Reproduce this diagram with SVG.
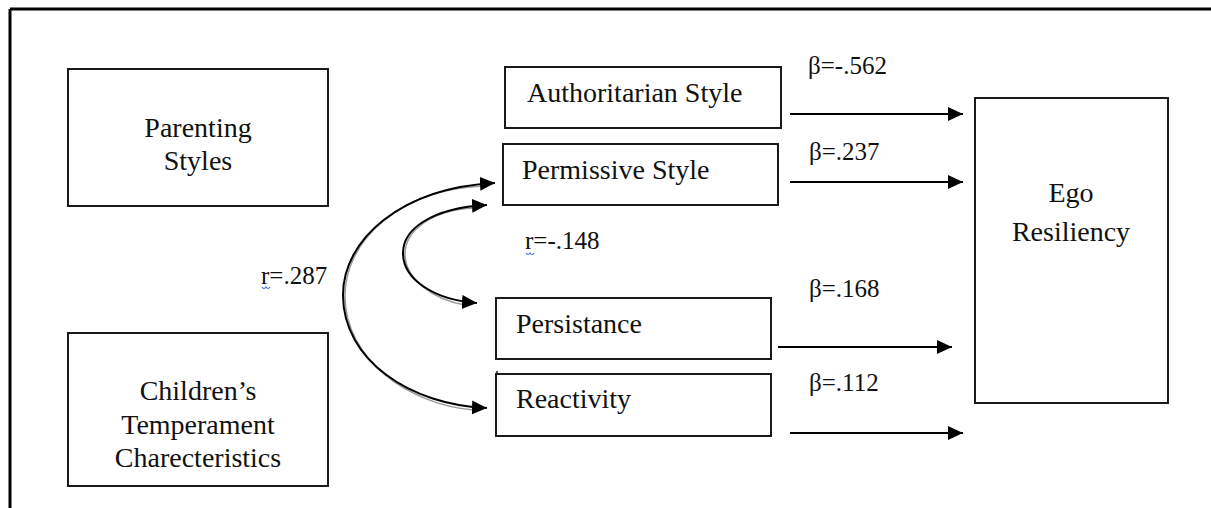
<svg xmlns="http://www.w3.org/2000/svg" width="1211" height="508" viewBox="0 0 1211 508">
<style>
  .box { fill: #fff; stroke: #1a1a1a; stroke-width: 2; }
  .t { font-family: "Liberation Serif", "Times New Roman", serif; font-size: 28px; fill: #111; }
  .c { text-anchor: middle; }
  .lbl { font-family: "Liberation Serif", "Times New Roman", serif; font-size: 25px; fill: #111; }
  .edge { fill: none; stroke: #000; stroke-width: 2; }
  .curve { fill: none; stroke: #000; stroke-width: 2; }
  .shadow { fill: none; stroke: #999; stroke-width: 1.5; }
  .squig { fill: none; stroke: #3b6fd6; stroke-width: 1.2; }
</style>
<defs>
  <marker id="ah" markerUnits="userSpaceOnUse" markerWidth="17" markerHeight="16" refX="15" refY="7" orient="auto-start-reverse">
    <path d="M0,0 L15,7 L0,14 z" fill="#000"/>
  </marker>
</defs>
<rect x="0" y="0" width="1211" height="508" fill="#fff"/>
<g id="frame">
  <line x1="10" y1="9" x2="1211" y2="9" stroke="#000" stroke-width="3"/>
  <line x1="10" y1="9" x2="10" y2="508" stroke="#000" stroke-width="3"/>
</g>
<g id="parenting">
  <rect class="box" x="68" y="69" width="260" height="137"/>
  <text class="t c" x="198" y="137">Parenting</text>
  <text class="t c" x="198" y="170">Styles</text>
</g>
<g id="children">
  <rect class="box" x="68" y="333" width="260" height="153"/>
  <text class="t c" x="198" y="400">Children’s</text>
  <text class="t c" x="198" y="434">Temperament</text>
  <text class="t c" x="198" y="467">Charecteristics</text>
</g>
<g id="authoritarian">
  <rect class="box" x="505" y="67" width="276" height="61"/>
  <text class="t" x="527" y="102">Authoritarian Style</text>
</g>
<g id="permissive">
  <rect class="box" x="503" y="144" width="275" height="61"/>
  <text class="t" x="522" y="179">Permissive Style</text>
</g>
<g id="persistance">
  <rect class="box" x="496" y="298" width="275" height="61"/>
  <text class="t" x="516" y="333">Persistance</text>
</g>
<g id="reactivity">
  <rect class="box" x="496" y="374" width="275" height="62"/>
  <line x1="497" y1="371" x2="497" y2="374" stroke="#1a1a1a" stroke-width="1.5"/>
  <text class="t" x="516" y="408">Reactivity</text>
</g>
<g id="ego">
  <rect class="box" x="975" y="98" width="193" height="305"/>
  <text class="t c" x="1071" y="202">Ego</text>
  <text class="t c" x="1071" y="241">Resiliency</text>
</g>
<g id="connectors">
  <line class="edge" x1="790" y1="114" x2="963" y2="114" marker-end="url(#ah)"/>
  <line class="edge" x1="790" y1="182" x2="963" y2="182" marker-end="url(#ah)"/>
  <line class="edge" x1="778" y1="347" x2="952" y2="347" marker-end="url(#ah)"/>
  <line class="edge" x1="790" y1="433" x2="963" y2="433" marker-end="url(#ah)"/>
  <path class="shadow" d="M 482,186 C 400,190 345,240 345,296 C 345,360 410,405 474,410"/>
  <path class="curve" d="M 495,183 C 400,188 343,240 343,295 C 343,360 410,405 487,408" marker-start="url(#ah)" marker-end="url(#ah)"/>
  <path class="shadow" d="M 474,208 C 430,210 405,232 405,254 C 405,280 435,300 465,305"/>
  <path class="curve" d="M 487,205 C 430,208 403,230 403,253 C 403,280 435,300 477,303" marker-start="url(#ah)" marker-end="url(#ah)"/>
</g>
<g id="labels">
  <text class="lbl" x="808" y="74">β=-.562</text>
  <text class="lbl" x="809" y="160">β=.237</text>
  <text class="lbl" x="809" y="297">β=.168</text>
  <text class="lbl" x="809" y="391">β=.112</text>
  <text class="lbl" x="261" y="284">r=.287</text>
  <path class="squig" d="M262,287 q2,3 4,0 q2,3 4,0"/>
  <text class="lbl" x="525" y="249">r=-.148</text>
  <path class="squig" d="M526,253 q2,3 4,0 q2,3 4,0"/>
</g>
</svg>
